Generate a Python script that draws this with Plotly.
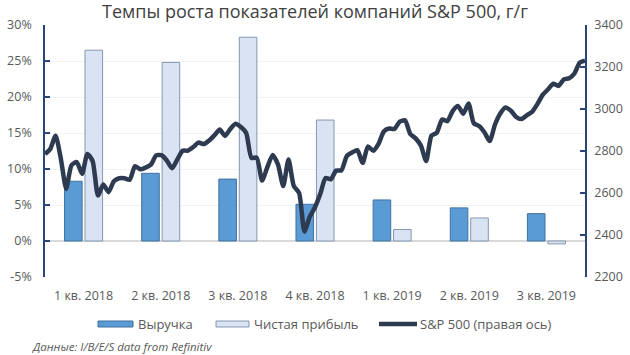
import plotly.graph_objects as go
import pandas as pd

quarters = ["1 кв. 2018", "2 кв. 2018", "3 кв. 2018", "4 кв. 2018",
            "1 кв. 2019", "2 кв. 2019", "3 кв. 2019"]
revenue = [8.3, 9.4, 8.6, 5.1, 5.7, 4.6, 3.8]
net_income = [26.5, 24.8, 28.3, 16.8, 1.6, 3.2, -0.4]

sp500 = [
    2786, 2810, 2873, 2762, 2620, 2732, 2747, 2691, 2786, 2752, 2588, 2641,
    2604, 2656, 2670, 2670, 2663, 2728, 2713, 2721, 2735, 2779, 2780, 2755,
    2718, 2760, 2801, 2802, 2819, 2840, 2833, 2850, 2875, 2902, 2872, 2905,
    2930, 2914, 2886, 2767, 2768, 2659, 2723, 2781, 2736, 2633, 2760, 2633,
    2600, 2417, 2486,
    2532, 2596, 2671, 2665, 2707, 2708, 2776, 2793, 2804, 2743, 2822, 2801,
    2834, 2893, 2907, 2905, 2940, 2946, 2881, 2860, 2826, 2752, 2873, 2887,
    2950, 2942, 2990, 3014, 2977, 3026, 2932, 2919, 2889, 2847, 2926, 2979,
    3007, 2992, 2962, 2952, 2970, 2986, 3023, 3067, 3093, 3120, 3110, 3141,
    3146, 3169, 3221, 3230,
]
sp_dates = pd.date_range("2018-01-12", periods=len(sp500), freq="W-FRI")

pct_ticks = [-5, 0, 5, 10, 15, 20, 25, 30]
pct_labels = [f"{v}%" for v in pct_ticks]
sp_ticks = [2200, 2400, 2600, 2800, 3000, 3200, 3400]

FONT = "Open Sans"
AXIS = "#2B4579"
TXT = "#595959"

fig = go.Figure()
fig.add_trace(go.Bar(
    x=quarters, y=revenue, name="Выручка",
    marker=dict(color="#5B9BD5", line=dict(color="#41719C", width=1)),
    xaxis="x", yaxis="y", showlegend=False,
))
fig.add_trace(go.Bar(
    x=quarters, y=net_income, name="Чистая прибыль",
    marker=dict(color="#DAE3F3", line=dict(color="#8497B0", width=1)),
    xaxis="x", yaxis="y", showlegend=False,
))
fig.add_trace(go.Scatter(
    x=sp_dates, y=sp500, name="S&P 500 (правая ось)", mode="lines",
    line=dict(color="#2D3A4F", width=4.5, shape="spline", smoothing=0.6),
    xaxis="x2", yaxis="y2", showlegend=False,
))

fig.update_layout(
    width=630, height=355,
    margin=dict(l=45, r=45, t=25, b=78, autoexpand=False),
    paper_bgcolor="white", plot_bgcolor="white",
    font=dict(family=FONT, color=TXT, size=12),
    barmode="group", bargap=0.47, bargroupgap=0.14,
    title=dict(text="Темпы роста показателей компаний S&P 500, г/г",
               x=0.5, xanchor="center", y=0.966, yanchor="middle",
               font=dict(family=FONT, size=18, color="#404040")),
    xaxis=dict(type="category", range=[-0.5, 6.5], showgrid=False,
               showline=False, ticks="", tickfont=dict(size=12.5, color=TXT),
               ticklabelstandoff=9),
    xaxis2=dict(type="date", overlaying="x",
                range=[sp_dates[0], sp_dates[-1]], visible=False),
    yaxis=dict(range=[-5, 30], tickvals=pct_ticks, ticktext=pct_labels,
               showgrid=True, gridcolor="#F2F2F2", gridwidth=1,
               zeroline=True, zerolinecolor="#D9D9D9", zerolinewidth=1.5,
               showline=True, linecolor=AXIS, linewidth=1.5,
               ticks="inside", ticklen=5, tickcolor=AXIS, tickwidth=1.5,
               tickfont=dict(size=12.5, color=TXT), ticklabelstandoff=9),
    yaxis2=dict(range=[2200, 3400], tickvals=sp_ticks, overlaying="y",
                side="right", showgrid=False, zeroline=False,
                showline=True, linecolor=AXIS, linewidth=1.5,
                ticks="inside", ticklen=5, tickcolor=AXIS, tickwidth=1.5,
                tickfont=dict(size=12.5, color=TXT), ticklabelstandoff=5),
)

# custom legend (paper coordinates; plot area spans 45..585 x 25..277 px)
def px_x(p):
    return (p - 45) / 540

def px_y(p):
    return (277 - p) / 252

ly = 324
shapes = [
    dict(type="rect", xref="paper", yref="paper",
         x0=px_x(98), x1=px_x(133), y0=px_y(327), y1=px_y(321),
         fillcolor="#5B9BD5", line=dict(color="#41719C", width=1)),
    dict(type="rect", xref="paper", yref="paper",
         x0=px_x(216), x1=px_x(249), y0=px_y(327), y1=px_y(321),
         fillcolor="#DAE3F3", line=dict(color="#8497B0", width=1)),
    dict(type="line", xref="paper", yref="paper",
         x0=px_x(379), x1=px_x(417), y0=px_y(ly), y1=px_y(ly),
         line=dict(color="#2D3A4F", width=4.5)),
]
fig.update_layout(shapes=shapes)

legend_items = [("Выручка", 136), ("Чистая прибыль", 252), ("S&P 500 (правая ось)", 418)]
for text, xp in legend_items:
    fig.add_annotation(text=text, xref="paper", yref="paper",
                       x=px_x(xp), y=px_y(ly), xanchor="left", yanchor="middle",
                       showarrow=False, font=dict(family=FONT, size=13, color=TXT))

fig.add_annotation(text="<i>Данные: I/B/E/S data from Refinitiv</i>",
                   xref="paper", yref="paper", x=px_x(30), y=px_y(346),
                   xanchor="left", yanchor="middle", showarrow=False,
                   font=dict(family=FONT, size=11.5, color=TXT))

fig.write_html("out.html",
               config={"displayModeBar": False},
               post_script="document.body.style.margin='0';document.body.style.overflow='hidden';")
